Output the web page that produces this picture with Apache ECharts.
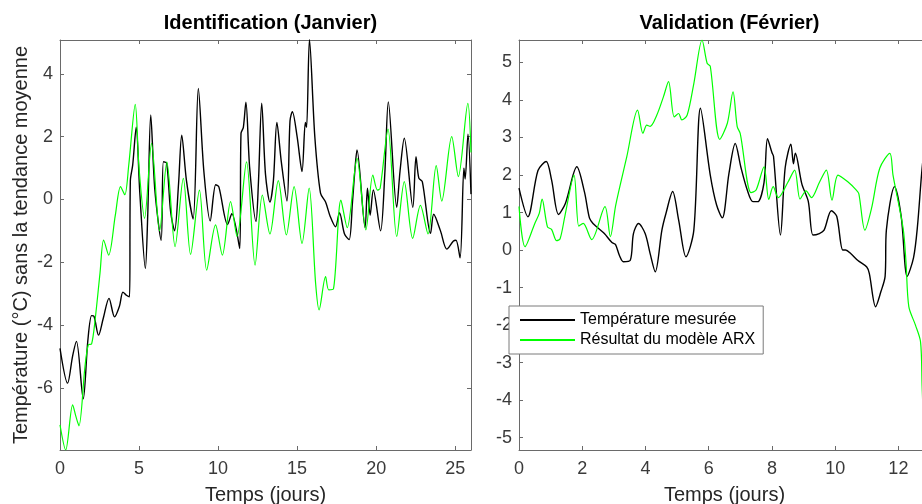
<!DOCTYPE html>
<html>
<head>
<meta charset="utf-8">
<script src="https://cdn.jsdelivr.net/npm/echarts@6/dist/echarts.min.js"></script>
<style>html,body{margin:0;padding:0;background:#fff}#c{width:922px;height:504px}</style>
</head>
<body>
<div id="c"></div>
<script>
// ---------- data ----------
const seriesNames = ['Température mesurée', 'Résultat du modèle ARX'];
const panelTitles = ['Identification (Janvier)', 'Validation (Février)'];
const xAxisName = 'Temps (jours)';
const yAxisName = 'Température (°C) sans la tendance moyenne';

const janXTicks = [0, 5, 10, 15, 20, 25];
const janYTicks = [-6, -4, -2, 0, 2, 4];
const febXTicks = [0, 2, 4, 6, 8, 10, 12];
const febYTicks = [-5, -4, -3, -2, -1, 0, 1, 2, 3, 4, 5];

const janRange = {xmin: 0, xmax: 26, ymin: -7.98, ymax: 5.08};
const febRange = {xmin: 0, xmax: 13, ymin: -5.33, ymax: 5.6};

// [time in days, temperature]
const janMeasured = [[0,-4.74],[0.48,-5.85],[0.8,-4.98],[1.04,-4.52],[1.47,-6.35],[1.76,-4.5],[2.0,-3.7],[2.15,-3.72],[2.44,-4.32],[2.73,-3.8],[3.1,-3.15],[3.45,-3.74],[3.76,-3.4],[3.98,-2.95],[4.2,-3.05],[4.4,-3.1],[4.45,0.6],[4.6,1.1],[4.82,2.3],[5.05,0.2],[5.4,-2.2],[5.55,-0.5],[5.74,2.69],[6.0,0.3],[6.4,-1.3],[6.54,1.2],[6.75,1.15],[7.0,-0.4],[7.25,-1.0],[7.5,0.5],[7.7,2.05],[8.0,0.6],[8.42,-0.62],[8.75,3.54],[9.1,0.9],[9.5,-0.68],[9.85,0.47],[10.05,0.4],[10.6,-0.8],[10.87,-0.45],[11.37,-1.56],[11.45,2.1],[11.6,2.3],[11.76,3.1],[12.0,1.0],[12.4,-0.7],[12.55,0.5],[12.76,3.07],[13.0,0.8],[13.28,-0.08],[13.5,0.6],[13.72,2.45],[14.0,1.2],[14.36,-0.05],[14.55,2.5],[14.7,2.8],[15.0,2.0],[15.31,0.89],[15.52,2.45],[15.6,2.3],[15.78,5.1],[16.12,2.0],[16.48,0.2],[16.8,-0.08],[17.1,-0.55],[17.43,-0.87],[17.68,-0.42],[18.0,-1.1],[18.29,-1.28],[18.5,-0.1],[18.65,0.9],[18.79,1.58],[19.3,-0.9],[19.45,0.36],[19.62,-0.5],[19.82,0.3],[20.28,-1.0],[20.55,0.85],[20.77,3.11],[21.3,-0.25],[21.51,0.9],[21.78,1.95],[22.32,-0.25],[22.52,1.36],[22.7,0.68],[22.92,0.57],[23.44,-1.08],[23.64,-0.47],[24.07,-1.0],[24.47,-1.58],[24.89,-1.32],[25.05,-1.3],[25.31,-1.86],[25.55,1.0],[25.63,0.65],[25.81,2.08],[26.0,0.17]];

const janModel = [[0,-7.18],[0.36,-7.98],[0.8,-6.54],[1.0,-6.9],[1.2,-7.21],[1.58,-5.32],[1.79,-4.63],[2.0,-4.6],[2.22,-3.84],[2.53,-2.35],[2.76,-1.29],[3.08,-1.77],[3.5,-0.5],[3.83,0.41],[4.1,0.15],[4.35,1.1],[4.76,3.03],[5.0,1.0],[5.35,-0.6],[5.79,1.79],[6.3,-1.0],[6.76,1.2],[7.28,-1.5],[7.8,0.67],[8.26,-1.75],[8.82,0.3],[9.28,-2.25],[9.84,-0.81],[10.27,-1.77],[10.79,-0.07],[11.2,-1.18],[11.8,1.2],[12.34,-2.09],[12.8,0.14],[13.28,-1.1],[13.81,0.6],[14.32,-1.13],[14.81,0.41],[15.31,-1.4],[15.76,0.36],[16.17,-2.67],[16.39,-3.52],[16.8,-2.46],[17.0,-2.88],[17.3,-2.85],[17.77,-0.02],[18.17,-0.9],[18.79,1.31],[19.35,-0.97],[19.79,0.78],[20.08,0.3],[20.25,0.35],[20.75,2.24],[21.3,-1.18],[21.78,0.57],[22.31,-1.24],[22.8,-0.19],[23.28,-1.1],[23.8,1.08],[24.15,-0.05],[24.78,2.0],[25.2,0.73],[25.8,3.06],[26.0,1.5]];

const febMeasured = [[0,1.65],[0.28,0.89],[0.6,2.12],[0.86,2.36],[1.03,1.87],[1.25,0.95],[1.47,1.25],[1.83,2.22],[2.07,1.55],[2.23,0.85],[2.35,0.7],[2.51,0.58],[2.7,0.44],[2.94,0.2],[3.05,0.15],[3.18,-0.15],[3.3,-0.31],[3.52,-0.27],[3.62,0.44],[3.78,0.71],[3.99,0.44],[4.15,-0.1],[4.31,-0.58],[4.52,0.53],[4.65,0.98],[4.86,1.56],[5.05,0.8],[5.28,-0.18],[5.53,0.53],[5.74,3.78],[6.05,2.0],[6.25,1.2],[6.43,0.86],[6.64,2.04],[6.84,2.84],[7.02,2.2],[7.22,1.6],[7.4,1.29],[7.55,1.29],[7.75,1.8],[7.86,2.97],[8.0,2.6],[8.05,2.5],[8.27,0.4],[8.42,2.2],[8.6,2.82],[8.68,2.3],[8.74,2.58],[8.95,1.75],[9.15,1.3],[9.3,0.4],[9.5,0.44],[9.65,0.53],[9.88,1.05],[10.05,0.9],[10.24,0.0],[10.33,0.0],[10.5,-0.1],[10.71,-0.27],[11.0,-0.45],[11.08,-0.62],[11.28,-1.51],[11.45,-1.1],[11.58,-0.7],[11.62,0.53],[11.88,1.69],[12.09,0.89],[12.28,-0.7],[12.48,-0.2],[12.6,0.6],[12.75,2.18],[12.9,3.3]];

const febModel = [[0,1.16],[0.19,0.09],[0.5,0.71],[0.64,0.98],[0.73,1.36],[0.9,0.62],[1.03,0.55],[1.19,0.25],[1.3,0.3],[1.45,0.9],[1.74,2.0],[1.89,0.64],[2.03,0.71],[2.3,0.28],[2.72,1.16],[2.89,0.36],[3.06,1.2],[3.41,2.49],[3.75,3.73],[3.92,3.11],[4.04,3.33],[4.15,3.3],[4.36,3.6],[4.57,4.09],[4.73,4.49],[4.91,3.55],[5.05,3.64],[5.15,3.47],[5.32,3.6],[5.53,4.44],[5.79,5.6],[5.95,4.98],[6.05,4.9],[6.35,2.95],[6.59,3.38],[6.77,4.22],[6.9,3.3],[7.0,3.1],[7.34,1.53],[7.5,1.6],[7.75,2.22],[7.9,1.35],[8.04,1.69],[8.2,1.4],[8.5,1.8],[8.72,2.13],[8.89,1.36],[9.08,1.58],[9.25,1.4],[9.5,1.8],[9.72,2.13],[9.9,1.33],[10.09,2.0],[10.4,1.82],[10.67,1.6],[10.75,1.5],[10.94,0.53],[11.15,1.11],[11.41,2.18],[11.73,2.58],[11.83,2.0],[12.15,0.58],[12.24,-0.31],[12.33,-1.51],[12.54,-2.0],[12.7,-2.44],[12.75,-3.6],[12.8,-4.8]];

// ---------- chart ----------
const FONT = '"Liberation Sans", Arial, Helvetica, sans-serif';
const AXIS_COLOR = '#6a6a6a';
const LABEL_COLOR = '#3a3a3a';

function xAx(grid, r, ticks, bottom) {
  return {
    type: 'value', gridIndex: grid, position: bottom ? 'bottom' : 'top',
    min: r.xmin, max: r.xmax,
    name: bottom ? xAxisName : '', nameLocation: 'middle', nameGap: 35,
    nameTextStyle: {fontFamily: FONT, fontSize: 20, color: '#262626'},
    axisLine: {show: true, onZero: false, lineStyle: {color: AXIS_COLOR, width: 1}},
    axisTick: {show: true, inside: true, length: 4, customValues: ticks, lineStyle: {color: AXIS_COLOR}},
    axisLabel: {show: bottom, customValues: ticks, margin: 10, fontFamily: FONT, fontSize: 18, color: LABEL_COLOR},
    splitLine: {show: false}
  };
}
function yAx(grid, r, ticks, left, withName) {
  return {
    type: 'value', gridIndex: grid, position: left ? 'left' : 'right',
    min: r.ymin, max: r.ymax,
    name: withName ? yAxisName : '', nameLocation: 'middle', nameGap: 29,
    nameTextStyle: {fontFamily: FONT, fontSize: 20, color: '#262626'},
    axisLine: {show: true, onZero: false, lineStyle: {color: AXIS_COLOR, width: 1}},
    axisTick: {show: true, inside: true, length: 4, customValues: ticks, lineStyle: {color: AXIS_COLOR}},
    axisLabel: {show: left, customValues: ticks, margin: 7, fontFamily: FONT, fontSize: 18, color: LABEL_COLOR},
    splitLine: {show: false}
  };
}
function line(name, data, xi, yi, color, width) {
  return {
    type: 'line', name: name, data: data, xAxisIndex: xi, yAxisIndex: yi,
    symbol: 'none', smooth: 0.3, animation: false,
    lineStyle: {color: color, width: width}, itemStyle: {color: color}
  };
}

const chart = echarts.init(document.getElementById('c'), null, {renderer: 'canvas'});
chart.setOption({
  animation: false,
  backgroundColor: '#ffffff',
  title: [
    {text: panelTitles[0], left: 265.5, top: 8, textAlign: 'center',
     textStyle: {fontFamily: FONT, fontSize: 20, fontWeight: 'bold', color: '#000'}},
    {text: panelTitles[1], left: 724.5, top: 8, textAlign: 'center',
     textStyle: {fontFamily: FONT, fontSize: 20, fontWeight: 'bold', color: '#000'}}
  ],
  grid: [
    {left: 60, top: 40, width: 411, height: 410, containLabel: false, outerBoundsMode: 'none'},
    {left: 519, top: 40, width: 411, height: 410, containLabel: false, outerBoundsMode: 'none'}
  ],
  xAxis: [
    xAx(0, janRange, janXTicks, true), xAx(0, janRange, janXTicks, false),
    xAx(1, febRange, febXTicks, true), xAx(1, febRange, febXTicks, false)
  ],
  yAxis: [
    yAx(0, janRange, janYTicks, true, true), yAx(0, janRange, janYTicks, false, false),
    yAx(1, febRange, febYTicks, true, false), yAx(1, febRange, febYTicks, false, false)
  ],
  legend: {
    show: true, orient: 'vertical', left: 509, top: 306,
    padding: [6, 8, 6, 10], itemWidth: 55, itemHeight: 14, itemGap: 4,
    itemStyle: {opacity: 0},
    backgroundColor: '#ffffff', borderColor: '#7a7a7a', borderWidth: 1,
    textStyle: {fontFamily: FONT, fontSize: 16, color: '#000'},
    data: seriesNames
  },
  series: [
    line(seriesNames[0], janMeasured, 0, 0, '#000000', 1.4),
    line(seriesNames[1], janModel, 0, 0, '#00ff00', 1.2),
    line(seriesNames[0], febMeasured, 2, 2, '#000000', 1.4),
    line(seriesNames[1], febModel, 2, 2, '#00ff00', 1.2)
  ]
});
</script>
</body>
</html>
